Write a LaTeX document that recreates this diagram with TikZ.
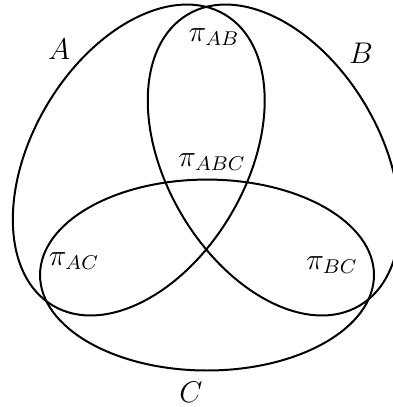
\documentclass[tikz,border=0pt]{standalone}
\usepackage{tikz}
\usetikzlibrary{positioning}

\tikzset{
  setline/.style={black, thick},
  setlabel/.style={font=\large, inner sep=1pt},
  partlabel/.style={font=\large, inner sep=1pt}
}

\begin{document}
\begin{tikzpicture}
  \useasboundingbox (0,0) rectangle (5.545,5.743);

  % The three sets
  \draw[setline] (1.958,3.485) ellipse [x radius=2.385cm, y radius=1.51cm, rotate=59.5];
  \draw[setline] (3.862,3.485) ellipse [x radius=2.385cm, y radius=1.51cm, rotate=-59.5];
  \draw[setline] (2.921,1.862) ellipse [x radius=2.356cm, y radius=1.347cm];

  % Set names
  \node[setlabel] (labA) at (0.833,5.052) {$A$};
  \node[setlabel] (labB) at (5.094,4.995) {$B$};
  \node[setlabel] (labC) at (2.695,0.212) {$C$};

  % Regions
  \node[partlabel] (pAB)  at (3.020,5.221) {$\pi_{AB}$};
  \node[partlabel] (pABC) at (2.992,3.457) {$\pi_{ABC}$};
  \node[partlabel] (pAC)  at (1.044,2.060) {$\pi_{AC}$};
  \node[partlabel] (pBC)  at (4.685,2.004) {$\pi_{BC}$};
\end{tikzpicture}
\end{document}
